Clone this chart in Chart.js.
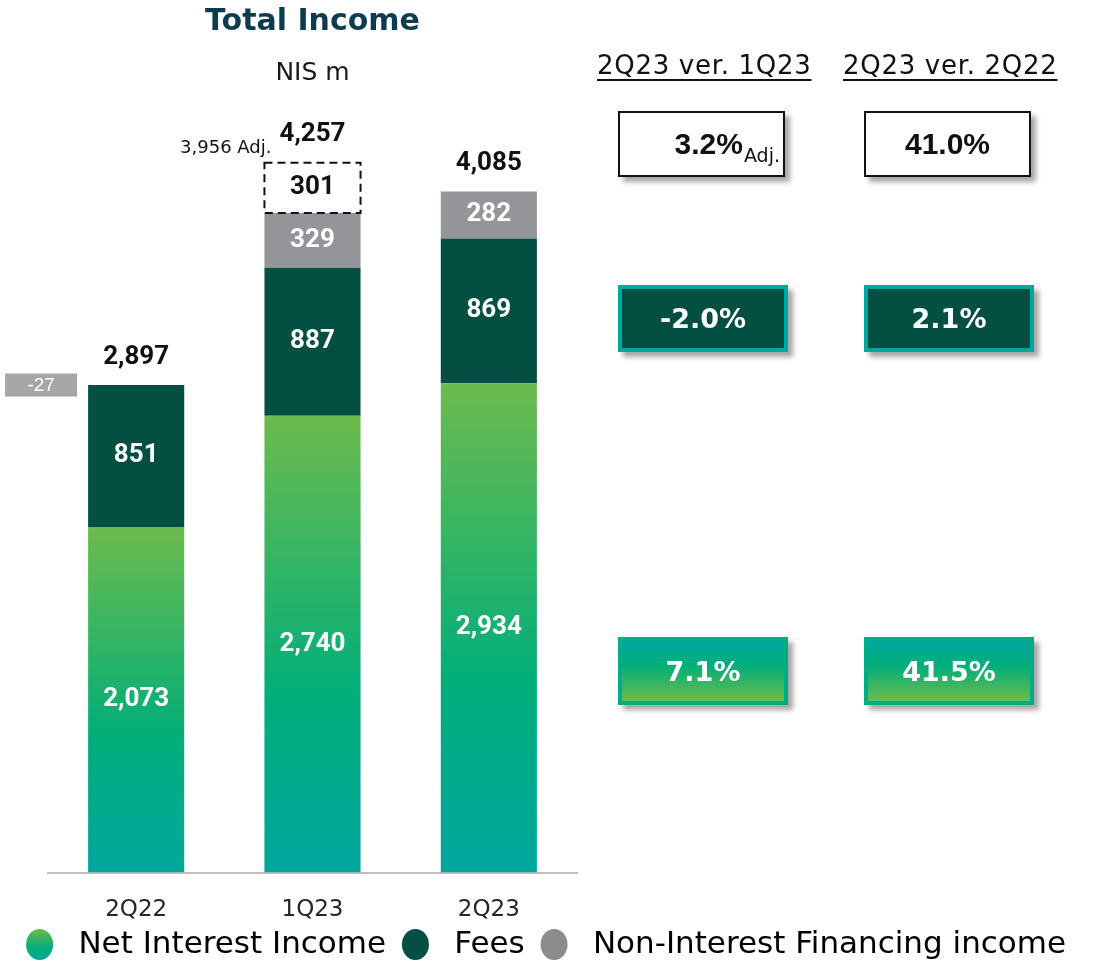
<!DOCTYPE html>
<html>
<head>
<meta charset="utf-8">
<script src="https://cdn.jsdelivr.net/npm/chart.js@4.4.0/dist/chart.umd.min.js"></script>
<style>
    html, body { margin: 0; padding: 0; background: #fff; overflow: hidden; }
    #wrap { position: relative; width: 1102px; height: 964px; overflow: hidden; }
    #incomeChart { position: absolute; left: 0; top: 0; }
    .head {
        position: absolute; top: 50px; line-height: 30px; white-space: nowrap;
        font: 26px "DejaVu Sans"; letter-spacing: 0.7px; color: #111;
        text-decoration: underline; text-decoration-thickness: 1.5px; text-underline-offset: 5px;
    }
    .box {
        position: absolute; box-sizing: border-box; display: flex;
        align-items: center; justify-content: center;
        box-shadow: 5px 5px 5px rgba(0, 0, 0, 0.35); white-space: nowrap;
    }
    .c0 { left: 618px; } .c1 { left: 864px; }
    .h0 { left: 597px; } .h1 { left: 843px; }
    .total { top: 111px; width: 167px; height: 66px; border: 2px solid #111; background: #fff;
             font: bold 30px "Liberation Sans"; color: #111; }
    .fees { top: 285px; width: 170px; height: 67px; border: 4px solid #00a79d; background: #034f41;
            font: bold 27px "DejaVu Sans"; color: #fff; }
    .nii { top: 637px; width: 170px; height: 68px; border: 4px solid #00ad85;
           background: linear-gradient(to bottom, #00a79d 0%, #00ae7a 40%, #6cbb4d 100%);
           font: bold 27px "DejaVu Sans"; color: #fff; }
    .adjbox { justify-content: flex-end; padding-right: 3px; }
    .adj { font: 19px "DejaVu Sans"; position: relative; top: 11px; margin-left: 1px; }
</style>
</head>
<body>
<div id="wrap">
    <canvas id="incomeChart" width="1102" height="970"></canvas>
</div>
<script>
var quarters = ['2Q22', '1Q23', '2Q23'];
var netInterest = [2073, 2740, 2934];
var fees = [851, 887, 869];
var nonInterest = [-27, 329, 282];
var oneOff = [0, 301, 0];
var seriesNames = ['Net Interest Income', 'Fees', 'Non-Interest Financing income'];

var compareHeads = ['2Q23 ver. 1Q23', '2Q23 ver. 2Q22'];
var totalChange = ['3.2%', '41.0%'];
var totalAdjusted = [true, false];
var feesChange = ['-2.0%', '2.1%'];
var niiChange = ['7.1%', '41.5%'];

function fmt(v) {
    return v.toLocaleString('en-US');
}

// comparison panel on the right
var wrap = document.getElementById('wrap');
function addDiv(cls, html) {
    var d = document.createElement('div');
    d.className = cls;
    d.innerHTML = html;
    wrap.appendChild(d);
}
compareHeads.forEach(function (h, k) {
    addDiv('head h' + k, h);
    addDiv('box total c' + k + (totalAdjusted[k] ? ' adjbox' : ''),
        totalChange[k] + (totalAdjusted[k] ? '<span class="adj">Adj.</span>' : ''));
    addDiv('box fees c' + k, feesChange[k]);
    addDiv('box nii c' + k, niiChange[k]);
});

function niiGradient(ctx, yBottom, yTop) {
    var g = ctx.createLinearGradient(0, yBottom, 0, yTop);
    g.addColorStop(0, '#00a79d');
    g.addColorStop(0.38, '#00ae7a');
    g.addColorStop(1, '#6cbb4d');
    return g;
}

var barLabels = {
    id: 'barLabels',
    beforeDraw: function (chart) {
        var lg = chart.legend;
        if (lg && lg.legendItems && lg.legendItems.length) {
            lg.legendItems[0].fillStyle = niiGradient(chart.ctx, lg.top + 37, lg.top + 6);
        }
    },
    afterDatasetsDraw: function (chart) {
        var ctx = chart.ctx;
        ctx.save();
        ctx.textAlign = 'center';
        ctx.textBaseline = 'middle';
        chart.data.datasets.forEach(function (ds, i) {
            var meta = chart.getDatasetMeta(i);
            meta.data.forEach(function (bar, j) {
                var v = ds.data[j];
                if (v <= 0) return;
                if (i === 3) {
                    ctx.setLineDash([8, 5]);
                    ctx.lineWidth = 2;
                    ctx.strokeStyle = '#111';
                    ctx.strokeRect(bar.x - bar.width / 2, bar.y, bar.width, bar.base - bar.y);
                    ctx.setLineDash([]);
                }
                ctx.fillStyle = i === 3 ? '#111' : '#fff';
                ctx.font = 'bold 26px Roboto';
                ctx.fillText(fmt(v), bar.x, (bar.y + bar.base) / 2);
            });
        });

        quarters.forEach(function (q, j) {
            var top = Infinity, x = 0, w = 0, total = 0;
            chart.data.datasets.forEach(function (ds, i) {
                var bar = chart.getDatasetMeta(i).data[j];
                total += ds.data[j];
                if (ds.data[j] > 0) top = Math.min(top, bar.y);
                x = bar.x;
                w = bar.width;
            });
            ctx.fillStyle = '#111';
            ctx.textAlign = 'center';
            ctx.font = 'bold 26px Roboto';
            ctx.fillText(fmt(total), x, top - 28);

            if (oneOff[j] > 0) {
                ctx.textAlign = 'right';
                ctx.font = '18px "DejaVu Sans"';
                ctx.fillText(fmt(total - oneOff[j]) + ' Adj.', x - w / 2 + 7, top - 14);
            }
            if (nonInterest[j] < 0) {
                var right = x - w / 2 - 11;
                ctx.fillStyle = '#a6a6a6';
                ctx.fillRect(right - 72, top - 11.5, 72, 23);
                ctx.fillStyle = '#fff';
                ctx.textAlign = 'center';
                ctx.font = '19px "Liberation Sans"';
                ctx.fillText(String(nonInterest[j]), right - 36, top + 0.5);
            }
        });
        ctx.restore();
    }
};

var chrt = document.getElementById('incomeChart').getContext('2d');
var chartId = new Chart(chrt, {
    type: 'bar',
    data: {
        labels: quarters,
        datasets: [{
            label: seriesNames[0],
            data: netInterest,
            backgroundColor: function (c) {
                var y = c.chart.scales.y;
                if (!y || c.raw == null) return '#00ae7a';
                return niiGradient(c.chart.ctx, y.getPixelForValue(0), y.getPixelForValue(c.raw));
            }
        }, {
            label: seriesNames[1],
            data: fees,
            backgroundColor: '#034f41'
        }, {
            label: seriesNames[2],
            data: nonInterest,
            backgroundColor: function (c) {
                return c.raw < 0 ? 'rgba(0,0,0,0)' : '#939598';
            }
        }, {
            label: 'Adj.',
            data: oneOff,
            backgroundColor: '#ffffff'
        }]
    },
    options: {
        responsive: false,
        animation: false,
        datasets: {
            bar: { barPercentage: 0.545, categoryPercentage: 1, borderWidth: 0 }
        },
        scales: {
            x: {
                stacked: true,
                grid: { display: false, drawTicks: false },
                border: { display: true, color: '#bfbfbf', width: 2 },
                ticks: { color: '#262626', font: { family: 'DejaVu Sans', size: 23 }, padding: 24 },
                afterFit: function (a) { a.height = 50.5; }
            },
            y: {
                stacked: true,
                min: 0,
                max: 4600,
                grid: { display: false, drawTicks: false },
                border: { display: false },
                ticks: { display: false },
                afterFit: function (a) { a.width = 48; }
            },
            yr: {
                position: 'right',
                min: 0,
                max: 1,
                grid: { display: false, drawTicks: false },
                border: { display: false },
                ticks: { display: false },
                afterFit: function (a) { a.width = 525; }
            }
        },
        plugins: {
            title: {
                display: true,
                text: 'Total Income',
                fullSize: false,
                color: '#0c3c4e',
                font: { family: 'DejaVu Sans', size: 30, weight: 'bold' },
                padding: { top: 4, bottom: 8 }
            },
            subtitle: {
                display: true,
                text: 'NIS m',
                fullSize: false,
                color: '#1a1a1a',
                font: { family: 'DejaVu Sans', size: 25 },
                padding: { top: 10, bottom: 17.6 }
            },
            legend: {
                position: 'bottom',
                labels: {
                    usePointStyle: true,
                    pointStyle: 'circle',
                    boxHeight: 22,
                    pointStyleWidth: 27,
                    padding: 6,
                    color: '#1a1a1a',
                    font: { family: 'DejaVu Sans', size: 31 },
                    generateLabels: function (chart) {
                        var cols = ['#00ae7a', '#034f41', '#8c8c8c'];
                        return seriesNames.map(function (name, i) {
                            return {
                                text: ' ' + name + ' ', fillStyle: cols[i], strokeStyle: cols[i],
                                lineWidth: 0, pointStyle: 'circle', hidden: false, datasetIndex: i
                            };
                        });
                    }
                }
            },
            tooltip: { enabled: false }
        }
    },
    plugins: [barLabels]
});
</script>
</body>
</html>
